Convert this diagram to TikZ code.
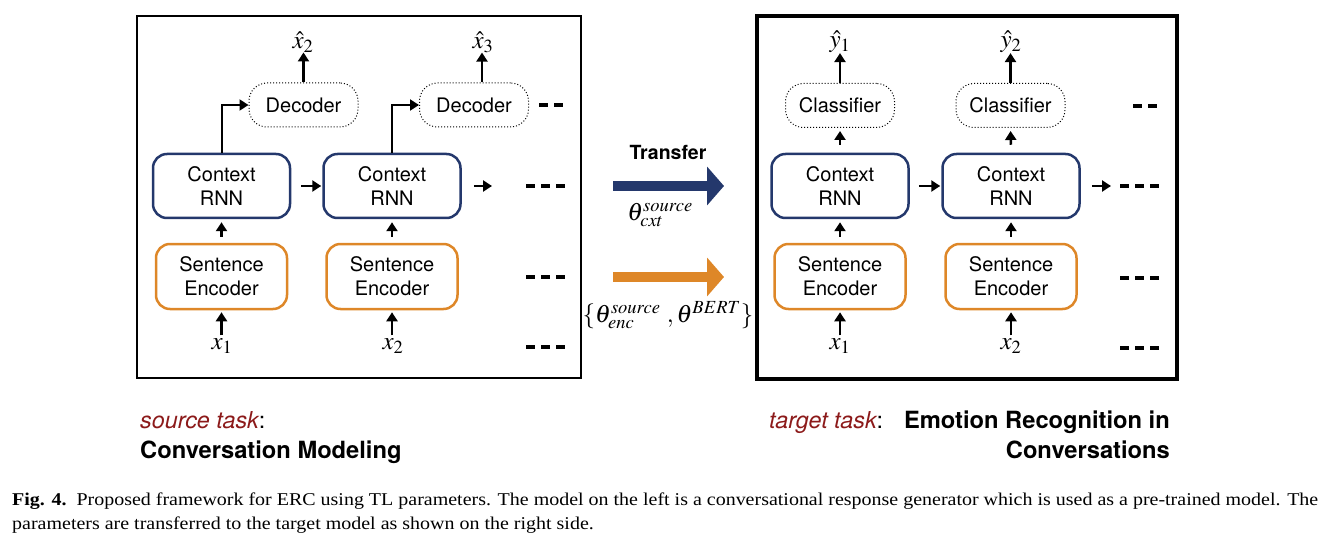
\documentclass[tikz,border=0pt]{standalone}
\usepackage{mathptmx}
\usepackage[no-math]{fontspec}
\setmainfont{Liberation Serif}
\setsansfont{TeX Gyre Heros}
\newfontfamily\capfont[FakeStretch=1.11]{Liberation Serif}
\usetikzlibrary{arrows.meta,positioning}
\definecolor{navy}{RGB}{36,56,108}
\definecolor{orng}{RGB}{222,135,40}
\definecolor{dred}{RGB}{140,26,26}
\begin{document}
\begin{tikzpicture}[x=1pt,y=-1pt,
  box/.style={rounded corners=14pt,line width=2.5pt,align=center,inner sep=0pt,
    font=\sffamily\fontsize{20}{24}\selectfont},
  crnn/.style={box,draw=navy,minimum width=137pt,minimum height=64pt},
  senc/.style={box,draw=orng,minimum width=131pt,minimum height=65pt},
  dec/.style={draw,dotted,line width=1pt,rounded corners=18pt,inner sep=0pt,
    minimum width=109pt,minimum height=44pt,font=\sffamily\fontsize{20}{24}\selectfont},
  arr/.style={line width=2.5pt,-{Triangle[length=9pt,width=11pt]}},
  thinarr/.style={line width=2pt,-{Triangle[length=9pt,width=11pt]}},
  dots/.style={line width=4pt,dash pattern=on 9pt off 6pt},
  mathlbl/.style={inner sep=0pt,font=\fontsize{25}{30}\selectfont},
  bigarr/.style={line width=10pt,-{Triangle[length=17pt,width=38pt]}},
  tasklbl/.style={inner sep=0pt,font=\sffamily\fontsize{23.3}{28}\selectfont},
  taskname/.style={inner sep=0pt,font=\sffamily\bfseries\fontsize{23.7}{28}\selectfont},
]
\useasboundingbox (0,0) rectangle (1333,548);
% frames
\draw[line width=1.5pt] (137,16) rectangle (581,378);
\draw[line width=4pt] (757,16) rectangle (1177,379);

% ---------- left model
\node[crnn] (c1) at (221.5,186) {Context\\RNN};
\node[crnn] (c2) at (392,186) {Context\\RNN};
\node[senc] (s1) at (221.5,276.5) {Sentence\\Encoder};
\node[senc] (s2) at (392,276.5) {Sentence\\Encoder};
\node[dec] (d1) at (303.5,105) {Decoder};
\node[dec] (d2) at (474,105) {Decoder};
\node[mathlbl] (xh2) at (303,42) {$\hat{x}_2$};
\node[mathlbl] (xh3) at (483,42) {$\hat{x}_3$};
\node[mathlbl] (lx1) at (222,346) {$x_1$};
\node[mathlbl] (lx2) at (393,346) {$x_2$};

\draw[arr] (d1.north) -- (d1.north |- xh2.south);
\draw[arr] (d2.north -| 482,0) -- (482,0 |- xh3.south);
\draw[thinarr] (c1.north) |- (d1.west);
\draw[thinarr] (c2.north) |- (d2.west);
\draw[arr,shorten <=6pt,shorten >=3pt] (s1.north) -- (c1.south);
\draw[arr,shorten <=6pt,shorten >=3pt] (s2.north) -- (c2.south);
\draw[arr,shorten <=3pt,shorten >=2pt] (lx1.north -| s1) -- (s1.south);
\draw[arr,shorten <=3pt,shorten >=2pt] (lx2.north -| s2) -- (s2.south);
\draw[arr,shorten <=10pt,shorten >=1pt] (c1.east) -- (c2.west);
\coordinate (lend) at (492,186);
\draw[arr,shorten <=12pt] (c2.east) -- (lend);
\draw[dots] (539,105) -- (565,105);
\draw[dots] (526,186) -- (566,186);
\draw[dots] (526,277) -- (566,277);
\draw[dots] (526,347) -- (566,347);

% ---------- middle
\node[font=\sffamily\bfseries\fontsize{19.5}{23}\selectfont] (tr) at (668,152) {Transfer};
\coordinate (ta) at (613,186);
\coordinate (tb) at (724,186);
\draw[bigarr,navy] (ta) -- (tb);
\node[mathlbl] (tc) at (660,215) {$\theta^{source}_{cxt}$};
\coordinate (oa) at (613,277);
\coordinate (ob) at (724,277);
\draw[bigarr,orng] (oa) -- (ob);
\node[mathlbl] (te) at (668,315) {$\{\theta^{source}_{enc}\ ,\theta^{BERT}\}$};

% ---------- right model
\node[crnn] (rc1) at (840,186) {Context\\RNN};
\node[crnn] (rc2) at (1011,186) {Context\\RNN};
\node[senc] (rs1) at (840,276.5) {Sentence\\Encoder};
\node[senc] (rs2) at (1011,276.5) {Sentence\\Encoder};
\node[dec] (k1) at (840,105.5) {Classifier};
\node[dec] (k2) at (1010.5,105.5) {Classifier};
\node[mathlbl] (yh1) at (840,42) {$\hat{y}_1$};
\node[mathlbl] (yh2) at (1011,42) {$\hat{y}_2$};
\node[mathlbl] (rx1) at (840,346) {$x_1$};
\node[mathlbl] (rx2) at (1011,346) {$x_2$};

\draw[arr] (k1.north) -- (k1.north |- yh1.south);
\draw[arr] (k2.north) -- (k2.north |- yh2.south);
\draw[arr,shorten <=8pt,shorten >=3pt] (rc1.north) -- (k1.south);
\draw[arr,shorten <=8pt,shorten >=3pt] (rc2.north) -- (k2.south);
\draw[arr,shorten <=6pt,shorten >=3pt] (rs1.north) -- (rc1.south);
\draw[arr,shorten <=6pt,shorten >=3pt] (rs2.north) -- (rc2.south);
\draw[arr,shorten <=3pt,shorten >=2pt] (rx1.north -| rs1) -- (rs1.south);
\draw[arr,shorten <=3pt,shorten >=2pt] (rx2.north -| rs2) -- (rs2.south);
\draw[arr,shorten <=9pt,shorten >=1pt] (rc1.east) -- (rc2.west);
\coordinate (rend) at (1111,186);
\draw[arr,shorten <=11pt] (rc2.east) -- (rend);
\draw[dots] (1133,106) -- (1158,106);
\draw[dots] (1120,186) -- (1160,186);
\draw[dots] (1120,278) -- (1160,278);
\draw[dots] (1120,348) -- (1160,348);

% ---------- task labels
\node[tasklbl,anchor=base west] (st) at (140,428)
  {\textcolor{dred}{\itshape source task}:};
\node[taskname,anchor=base west] (sn) at (140,458)
  {Conversation Modeling};
\node[tasklbl,anchor=base west] (tt) at (769,428)
  {\textcolor{dred}{\itshape target task}:};
\node[taskname,anchor=base east] (tn1) at (1170,428)
  {Emotion Recognition in};
\node[taskname,anchor=base east] (tn2) at (1170,458)
  {Conversations};

% ---------- caption
\node[anchor=base west,inner sep=0pt,text width=1306pt,align=justify,
  font=\capfont\fontsize{18}{24}\selectfont] (cap) at (12,505)
  {\textbf{Fig. 4.}\ \ Proposed framework for ERC using TL parameters. The model on the left is a conversational response generator which is used as a pre-trained model. The\linebreak parameters are transferred to the target model as shown on the right side.};
\end{tikzpicture}
\end{document}
